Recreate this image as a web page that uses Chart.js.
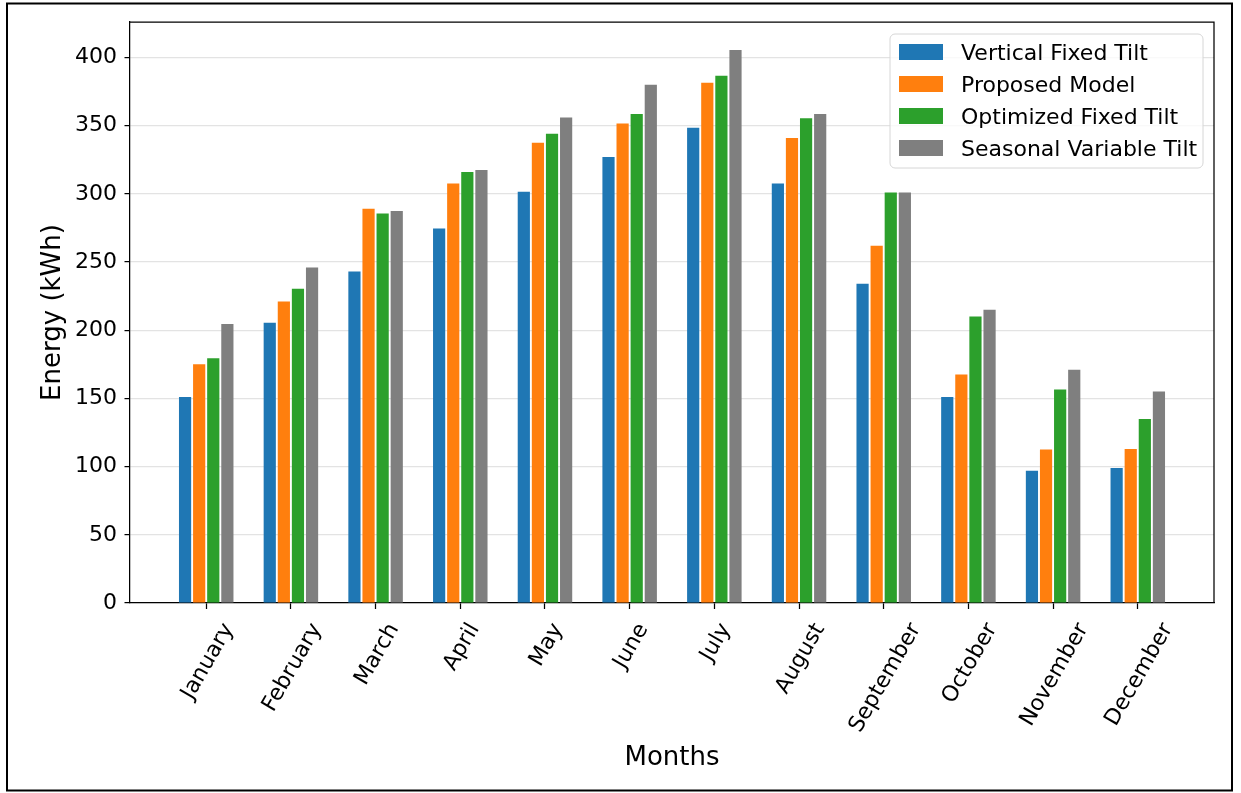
<!DOCTYPE html>
<html>
<head>
<meta charset="utf-8">
<title>Monthly Energy by Tilt Strategy</title>
<style>
  html, body { margin: 0; padding: 0; background: #ffffff; }
  #wrap { position: relative; width: 1241px; height: 793px; }
  canvas { display: block; }
</style>
<script src="https://cdn.jsdelivr.net/npm/chart.js@4.4.1/dist/chart.umd.min.js"></script>
</head>
<body>
<div id="wrap"><canvas id="chart" width="1241" height="793"></canvas></div>
<script>
// Monthly energy yield (kWh) for each tilt strategy
const months = ['January', 'February', 'March', 'April', 'May', 'June',
                'July', 'August', 'September', 'October', 'November', 'December'];
const verticalFixedTilt   = [151, 205.5, 243, 274.5, 301.5, 327, 348.5, 307.5, 234, 151, 97, 99];
const proposedModel       = [175, 221, 289, 307.5, 337.5, 351.5, 381.5, 341, 262, 167.5, 112.5, 113];
const optimizedFixedTilt  = [179.5, 230.5, 285.5, 316, 344, 358.5, 386.5, 355.5, 301, 210, 156.5, 135];
const seasonalVariableTilt = [204.5, 246, 287.5, 317.5, 356, 380, 405.5, 358.5, 301, 215, 171, 155];
const seriesNames = ['Vertical Fixed Tilt', 'Proposed Model', 'Optimized Fixed Tilt', 'Seasonal Variable Tilt'];
const yTickStep = 50;

const FONT = 'DejaVu Sans';
const colors = ['#1f77b4', '#ff7f0e', '#2ca02c', '#7f7f7f'];
const seriesValues = [verticalFixedTilt, proposedModel, optimizedFixedTilt, seasonalVariableTilt];

const datasets = seriesValues.map((vals, k) => ({
  label: seriesNames[k],
  data: vals.map((v, i) => ({ x: i, y: v })),
  backgroundColor: colors[k],
  borderWidth: 0,
  categoryPercentage: 0.666,
  barPercentage: 0.865
}));

// Frame, rotated month labels and the boxed legend
const decorations = {
  id: 'decorations',
  afterDraw(chart) {
    const ctx = chart.ctx;
    const a = chart.chartArea;
    const xs = chart.scales.x;

    ctx.save();
    // top and right spines
    ctx.strokeStyle = '#000';
    ctx.lineWidth = 1.25;
    ctx.beginPath();
    ctx.moveTo(a.left, a.top);
    ctx.lineTo(a.right, a.top);
    ctx.lineTo(a.right, a.bottom);
    ctx.stroke();

    // month labels, rotated 60 degrees with their boxes centred under each tick
    const fs = 22;
    ctx.font = fs + 'px "' + FONT + '"';
    ctx.fillStyle = '#000';
    ctx.textAlign = 'center';
    ctx.textBaseline = 'alphabetic';
    const ang = Math.PI / 3;
    const h = fs * 1.164;
    const top = a.bottom + 15;
    months.forEach((m, i) => {
      const w = ctx.measureText(m).width;
      const H = w * Math.sin(ang) + h * Math.cos(ang);
      const cx = xs.getPixelForValue(i);
      const cy = top + H / 2;
      ctx.save();
      ctx.translate(cx, cy);
      ctx.rotate(-ang);
      ctx.fillText(m, 0, 0.346 * fs);
      ctx.restore();
    });

    // legend
    const lx = 890, ly = 34, lw = 313, lh = 134, r = 5;
    ctx.beginPath();
    ctx.moveTo(lx + r, ly);
    ctx.arcTo(lx + lw, ly, lx + lw, ly + lh, r);
    ctx.arcTo(lx + lw, ly + lh, lx, ly + lh, r);
    ctx.arcTo(lx, ly + lh, lx, ly, r);
    ctx.arcTo(lx, ly, lx + lw, ly, r);
    ctx.closePath();
    ctx.fillStyle = 'rgba(255,255,255,0.8)';
    ctx.fill();
    ctx.strokeStyle = '#d6d6d6';
    ctx.lineWidth = 1;
    ctx.stroke();
    ctx.textAlign = 'left';
    chart.data.datasets.forEach((ds, k) => {
      const rowY = 52 + k * 32;
      ctx.fillStyle = ds.backgroundColor;
      ctx.fillRect(899, rowY - 8, 44, 16);
      ctx.fillStyle = '#000';
      ctx.fillText(ds.label, 961, rowY + 7.5);
    });

    // outer border of the figure
    ctx.strokeStyle = '#000';
    ctx.lineWidth = 2;
    ctx.strokeRect(7, 3.5, 1225, 787);
    ctx.restore();
  }
};

new Chart(document.getElementById('chart'), {
  type: 'bar',
  data: { datasets },
  options: {
    responsive: false,
    devicePixelRatio: 1,
    animation: false,
    layout: { padding: { left: 0, top: 22, right: 27, bottom: 0 } },
    plugins: {
      legend: { display: false },
      tooltip: { enabled: false }
    },
    scales: {
      x: {
        type: 'linear',
        offset: false,
        min: -0.9,
        max: 11.9,
        afterBuildTicks: s => { s.ticks = months.map((_, i) => ({ value: i })); },
        afterFit: s => { s.height = 190; },
        ticks: { display: false },
        grid: { offset: false, drawOnChartArea: false, drawTicks: true, tickLength: 6, tickColor: '#000', tickWidth: 1.25 },
        border: { display: true, color: '#000', width: 1.25 },
        title: {
          display: true, text: 'Months', color: '#000',
          font: { family: FONT, size: 26 },
          padding: { top: 0, bottom: 19.5 }
        }
      },
      y: {
        min: 0,
        max: 426,
        z: 1,
        afterFit: s => { s.width = 130; },
        ticks: {
          stepSize: yTickStep,
          includeBounds: false,
          color: '#000',
          padding: 7.5,
          font: { family: FONT, size: 22 }
        },
        grid: { color: 'rgba(215,215,215,0.7)', lineWidth: 1.2, tickLength: 5.5, tickColor: '#000', tickWidth: 1.25 },
        border: { display: true, color: '#000', width: 1.25 },
        title: {
          display: true, text: 'Energy (kWh)', color: '#000',
          font: { family: FONT, size: 26 },
          padding: { top: 38, bottom: 0 }
        }
      }
    }
  },
  plugins: [decorations]
});
</script>
</body>
</html>
